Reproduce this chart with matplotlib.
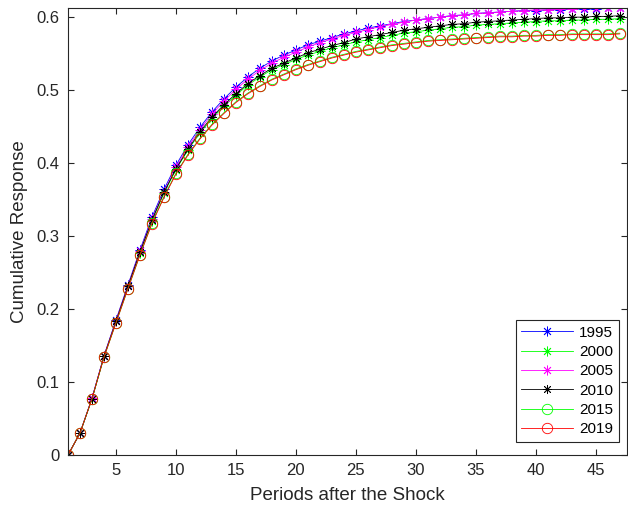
import numpy as np
import matplotlib
matplotlib.use("Agg")
import matplotlib.pyplot as plt
from matplotlib.ticker import FuncFormatter

plt.rcParams['font.family'] = ['Liberation Sans', 'DejaVu Sans']

# periods after the shock
periods = np.arange(1, 48)

# cumulative responses
resp_1995 = [0, 0.030, 0.078, 0.136, 0.185, 0.233, 0.281, 0.326, 0.364, 0.397,
             0.425, 0.449, 0.470, 0.488, 0.504, 0.518, 0.530, 0.540, 0.548, 0.555,
             0.562, 0.567, 0.572, 0.577, 0.581, 0.585, 0.588, 0.591, 0.594, 0.596,
             0.598, 0.600, 0.602, 0.603, 0.605, 0.606, 0.607, 0.608, 0.609, 0.609,
             0.610, 0.610, 0.611, 0.611, 0.611, 0.612, 0.612]
resp_2000 = [0, 0.030, 0.077, 0.135, 0.183, 0.231, 0.277, 0.321, 0.359, 0.391,
             0.418, 0.441, 0.461, 0.478, 0.493, 0.507, 0.518, 0.528, 0.535, 0.542,
             0.548, 0.553, 0.558, 0.562, 0.566, 0.569, 0.572, 0.575, 0.578, 0.580,
             0.582, 0.584, 0.586, 0.587, 0.589, 0.590, 0.591, 0.592, 0.593, 0.594,
             0.595, 0.595, 0.596, 0.596, 0.597, 0.597, 0.598]
resp_2005 = [0, 0.030, 0.078, 0.136, 0.184, 0.232, 0.279, 0.323, 0.361, 0.394,
             0.422, 0.446, 0.467, 0.485, 0.501, 0.515, 0.527, 0.537, 0.545, 0.552,
             0.559, 0.565, 0.570, 0.575, 0.579, 0.583, 0.587, 0.590, 0.593, 0.596,
             0.598, 0.600, 0.602, 0.603, 0.605, 0.606, 0.607, 0.608, 0.609, 0.610,
             0.610, 0.611, 0.611, 0.612, 0.612, 0.612, 0.612]
resp_2010 = [0, 0.030, 0.077, 0.135, 0.183, 0.231, 0.278, 0.322, 0.360, 0.392,
             0.419, 0.443, 0.463, 0.480, 0.495, 0.509, 0.520, 0.530, 0.537, 0.544,
             0.551, 0.556, 0.561, 0.565, 0.570, 0.573, 0.576, 0.579, 0.582, 0.584,
             0.586, 0.588, 0.590, 0.591, 0.593, 0.594, 0.595, 0.596, 0.597, 0.598,
             0.599, 0.599, 0.600, 0.600, 0.601, 0.601, 0.602]
resp_2015 = [0, 0.030, 0.077, 0.134, 0.181, 0.228, 0.274, 0.318, 0.354, 0.386,
             0.412, 0.434, 0.453, 0.469, 0.484, 0.496, 0.506, 0.515, 0.522, 0.529,
             0.535, 0.540, 0.545, 0.549, 0.553, 0.556, 0.559, 0.562, 0.564, 0.566,
             0.568, 0.569, 0.570, 0.571, 0.572, 0.573, 0.574, 0.574, 0.575, 0.575,
             0.576, 0.576, 0.577, 0.577, 0.577, 0.577, 0.578]
resp_2019 = [0, 0.030, 0.077, 0.134, 0.181, 0.228, 0.274, 0.317, 0.353, 0.385,
             0.411, 0.433, 0.452, 0.468, 0.483, 0.495, 0.505, 0.514, 0.521, 0.528,
             0.534, 0.539, 0.544, 0.548, 0.552, 0.555, 0.558, 0.561, 0.563, 0.565,
             0.567, 0.568, 0.569, 0.570, 0.571, 0.572, 0.573, 0.573, 0.574, 0.574,
             0.575, 0.575, 0.576, 0.576, 0.576, 0.576, 0.577]

labels = ['1995', '2000', '2005', '2010', '2015', '2019']
series = [resp_1995, resp_2000, resp_2005, resp_2010, resp_2015, resp_2019]
colors = ['#0000ff', '#00ff00', '#ff00ff', '#000000', '#00ff00', '#ff0000']
asterisk = (8, 2, 0)
markers = [asterisk, asterisk, asterisk, asterisk, 'o', 'o']
msizes = [7, 7, 7, 6.5, 7.5, 7.5]

fig = plt.figure(figsize=(6.28, 5.15), dpi=100)
ax = fig.add_axes([68 / 628, 60 / 515, 559 / 628, 447 / 515])

for y, lab, c, m, ms in zip(series, labels, colors, markers, msizes):
    ax.plot(periods, y, color=c, lw=0.6, marker=m, markersize=ms,
            markerfacecolor='none', markeredgecolor=c, markeredgewidth=0.6,
            label=lab)

ax.set_xlim(1, 47.6)
ax.set_ylim(0, 0.6125)
ax.set_xticks(range(5, 46, 5))
ax.set_yticks(np.arange(0, 0.61, 0.1))
ax.yaxis.set_major_formatter(FuncFormatter(lambda v, p: '%g' % round(v, 2)))

grey = '#262626'
for s in ax.spines.values():
    s.set_color(grey)
    s.set_linewidth(0.8)
ax.tick_params(direction='in', length=4, width=0.8, top=True, right=True,
               colors=grey, labelsize=12, labelcolor=grey, pad=6)

ax.set_xlabel('Periods after the Shock', fontsize=13.5, color=grey, labelpad=6)
ax.set_ylabel('Cumulative Response', fontsize=13.5, color=grey, labelpad=6)

leg = ax.legend(loc='lower right', bbox_to_anchor=(0.985, 0.03), fontsize=11,
                handlelength=3.4, fancybox=False, framealpha=1,
                edgecolor=grey, borderpad=0.35, labelspacing=0.35,
                handletextpad=0.4, borderaxespad=0)
leg.get_frame().set_linewidth(0.8)

fig.savefig('out.png', dpi=100)
